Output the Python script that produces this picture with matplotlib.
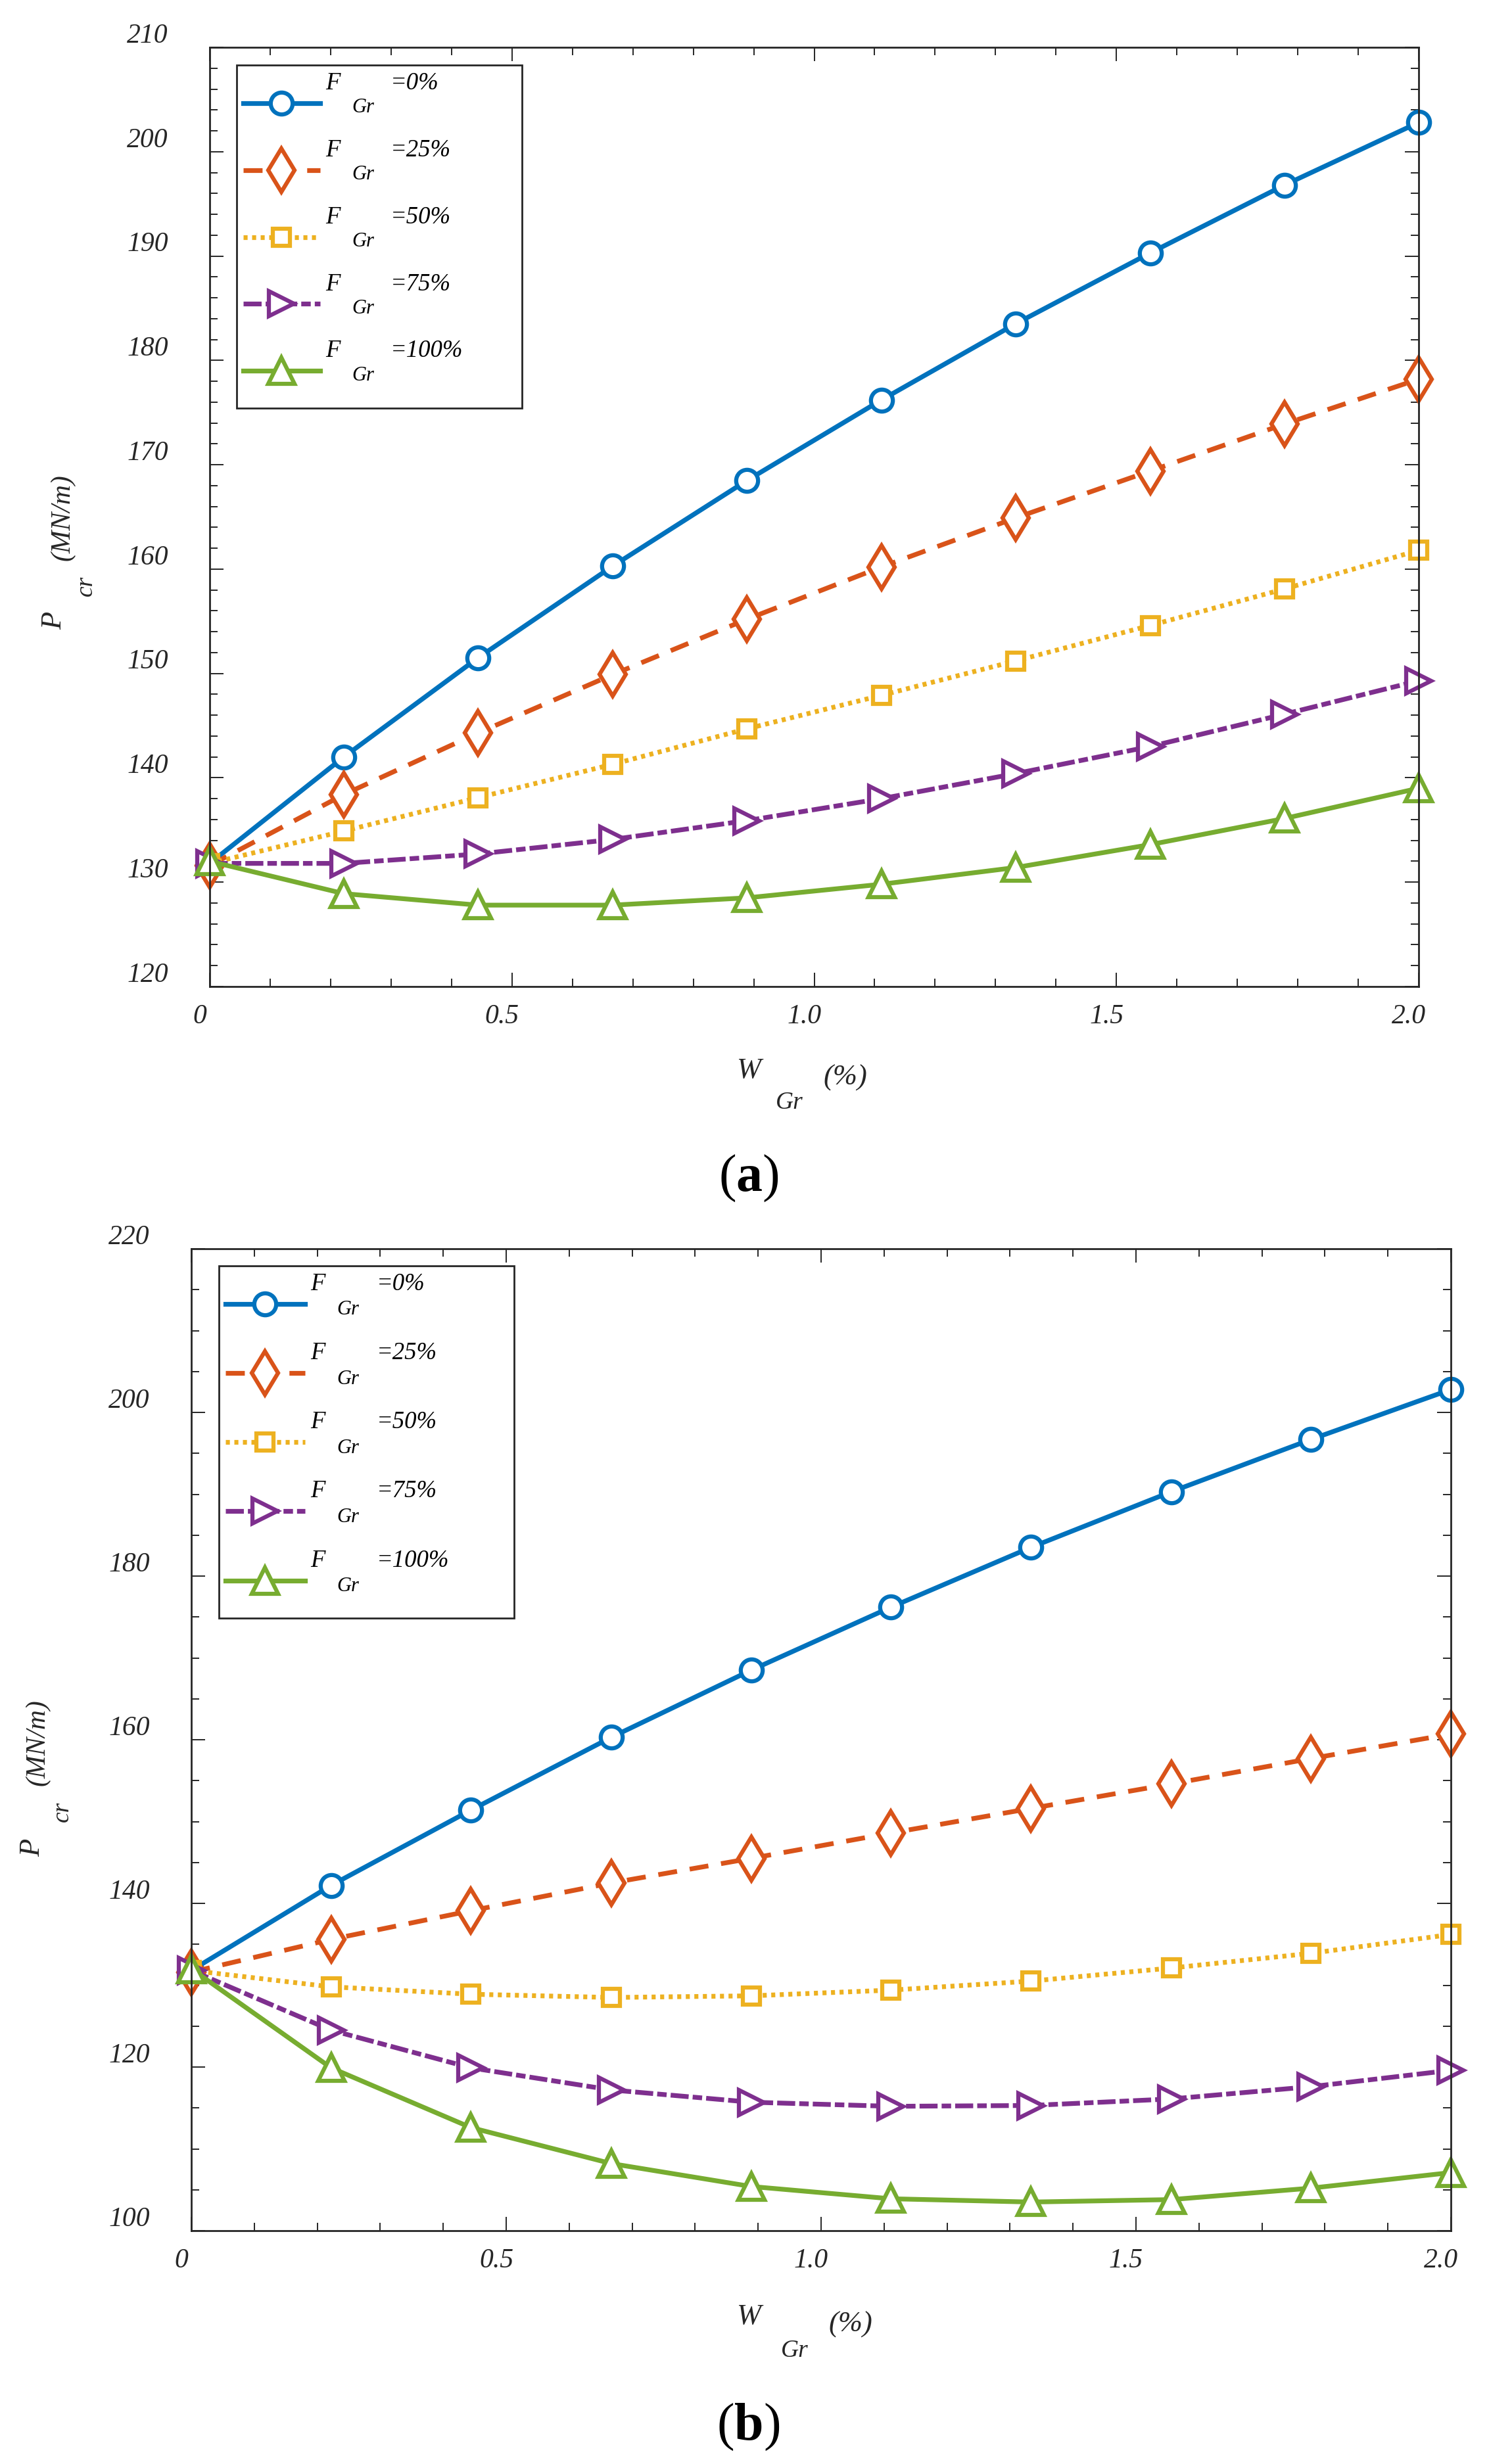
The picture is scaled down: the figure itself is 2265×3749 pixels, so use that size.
import numpy as np
import matplotlib
matplotlib.use('Agg')
import matplotlib.pyplot as plt
from matplotlib.ticker import MultipleLocator

plt.rcParams['font.family'] = ['Liberation Serif', 'DejaVu Serif']
plt.rcParams['mathtext.fontset'] = 'custom'
plt.rcParams['mathtext.rm'] = 'Liberation Serif'
plt.rcParams['mathtext.bf'] = 'Liberation Serif:bold'

W, H = 2265, 3749
DARK = '#262626'

# W_Gr (%) on the x axis
w_gr = [0, 0.222, 0.444, 0.667, 0.889, 1.111, 1.333, 1.556, 1.778, 2.0]
fgr_labels = ['=0%', '=25%', '=50%', '=75%', '=100%']

# panel (a)
a_f0 = [131.8, 142.0, 151.5, 160.3, 168.5, 176.2, 183.5, 190.3, 196.8, 202.8]
a_f25 = [131.6, 138.4, 144.3, 149.9, 155.2, 160.2, 164.9, 169.4, 173.9, 178.2]
a_f50 = [131.8, 134.9, 138.1, 141.3, 144.7, 147.9, 151.2, 154.6, 158.1, 161.8]
a_f75 = [131.8, 131.8, 132.7, 134.1, 135.9, 138.0, 140.4, 143.0, 146.1, 149.3]
a_f100 = [132.0, 128.9, 127.8, 127.8, 128.5, 129.8, 131.4, 133.6, 136.1, 139.0]

# panel (b)
b_f0 = [131.8, 142.2, 151.4, 160.3, 168.5, 176.2, 183.5, 190.3, 196.7, 202.8]
b_f25 = [131.6, 135.6, 139.1, 142.5, 145.5, 148.6, 151.6, 154.6, 157.7, 160.7]
b_f50 = [131.8, 129.8, 128.9, 128.5, 128.7, 129.4, 130.5, 132.1, 133.9, 136.2]
b_f75 = [131.8, 124.5, 119.9, 117.2, 115.7, 115.2, 115.3, 116.1, 117.6, 119.6]
b_f100 = [132.0, 119.9, 112.6, 108.2, 105.4, 103.9, 103.5, 103.8, 105.2, 107.1]

colors = ['#0072BD', '#D95319', '#EDB120', '#7E2F8E', '#77AC30']
markers = ['o', 'd', 's', '>', '^']
msizes = [24, 34, 19, 27, 29]
lstyles = ['-', (0, (4.0, 2.7)), (0, (0.85, 0.95)), (0, (3.8, 0.85, 2.0, 0.85)), '-']

xtick_vals = [0, 0.5, 1.0, 1.5, 2.0]
xtick_text = ['0', '0.5', '1.0', '1.5', '2.0']

fig = plt.figure(figsize=(W / 100, H / 100), dpi=100)


def fpos(x, y):
    # pixel position in the picture -> figure fraction
    return x / W, 1 - y / H


def put(x, y, s, size, rot=0, **kw):
    fx, fy = fpos(x, y)
    kw.setdefault('color', DARK)
    kw.setdefault('style', 'italic')
    fig.text(fx, fy, s, fontsize=size, rotation=rot, rotation_mode='anchor',
             ha='left', va='baseline', **kw)


def panel(rect, ys, ylim, ystep, yminor, leg_box, leg_sp, hlen, hpad, f_dx, g_dx, g_dy):
    ax = fig.add_axes(rect)
    for y, c, m, ms, ls, lab in zip(ys, colors, markers, msizes, lstyles, fgr_labels):
        ax.plot(w_gr, y, color=c, lw=5.2, ls=ls, marker=m, ms=ms, mec=c,
                mfc='white', mew=4.5, label=lab + '\n', clip_on=False)
    ax.set_xlim(0, 2.0)
    ax.set_ylim(*ylim)
    ax.xaxis.set_major_locator(MultipleLocator(0.5))
    ax.xaxis.set_minor_locator(MultipleLocator(0.1))
    ax.yaxis.set_major_locator(MultipleLocator(ystep))
    ax.yaxis.set_minor_locator(MultipleLocator(yminor))
    ax.tick_params(which='both', direction='in', top=True, right=True,
                   labelleft=False, labelbottom=False, color=DARK, width=1.4)
    ax.tick_params(which='major', length=15)
    ax.tick_params(which='minor', length=8.5)
    for sp in ax.spines.values():
        sp.set_linewidth(2)
        sp.set_color(DARK)

    # tick labels sit a bit off their ticks, like in the source figure
    for v in np.arange(ylim[0], ylim[1] + 1, ystep):
        ax.annotate(f'{v:.0f}', xy=(0, v), xycoords=('axes fraction', 'data'),
                    xytext=(-63, 22), textcoords='offset pixels', ha='right',
                    va='center_baseline', fontsize=30, style='italic', color=DARK)
    for v, s in zip(xtick_vals, xtick_text):
        ax.annotate(s, xy=(v, 0), xycoords=('data', 'axes fraction'),
                    xytext=(-15, -41), textcoords='offset pixels', ha='center',
                    va='center_baseline', fontsize=30, style='italic', color=DARK)

    leg = ax.legend(loc='upper left', bbox_to_anchor=leg_box, mode='expand',
                    borderaxespad=0, prop=dict(family='Liberation Serif', style='italic', size=26.5),
                    handlelength=hlen, handletextpad=hpad, borderpad=0.28,
                    labelspacing=leg_sp, fancybox=False, edgecolor=DARK, framealpha=1)
    leg.get_frame().set_linewidth(2)
    for t in leg.get_texts():
        t.set_linespacing(1.95)
        ax.annotate('F', xy=(0, 1), xycoords=t, xytext=(f_dx, 0), textcoords='offset pixels',
                    ha='left', va='top', fontsize=26.5, style='italic', zorder=10)
        ax.annotate('Gr', xy=(0, 1), xycoords=t, xytext=(g_dx, g_dy), textcoords='offset pixels',
                    ha='left', va='baseline', fontsize=22, style='italic', zorder=10)
    return ax


# (a)
panel([319 / W, 1 - 1501 / H, 1839 / W, 1429 / H],
      [a_f0, a_f25, a_f50, a_f75, a_f100], (120, 210), 10, 2,
      (0.0223, 0.6811, 0.236, 0.3), 0.21, 3.16, 2.92, -99, -59, -62)
put(1120, 1640, 'W', 32)
put(1180, 1687, 'Gr', 27)
put(1252, 1651, '(%)', 32)
put(93, 958, 'P', 32, rot=90)
put(140, 907, 'cr', 27, rot=90)
put(105, 853, '(MN/m)', 30, rot=90)
fx, fy = fpos(1139, 1812)
fig.text(fx, fy, r'($\mathbf{a}$)', fontsize=57.6, ha='center', va='baseline', color='black')

# (b)
panel([291 / W, 1 - 3394 / H, 1916 / W, 1494 / H],
      [b_f0, b_f25, b_f50, b_f75, b_f100], (100, 220), 20, 5,
      (0.0219, 0.6826, 0.2343, 0.3), 0.30, 3.27, 2.97, -101, -61, -64)
put(1120, 3536, 'W', 32)
put(1188, 3586, 'Gr', 27)
put(1260, 3548, '(%)', 32)
put(60, 2825, 'P', 32, rot=90)
put(104, 2772, 'cr', 27, rot=90)
put(68, 2717, '(MN/m)', 30, rot=90)
fx, fy = fpos(1138, 3712)
fig.text(fx, fy, r'($\mathbf{b}$)', fontsize=57.6, ha='center', va='baseline', color='black')

fig.savefig('out.png', dpi=100, facecolor='white')
